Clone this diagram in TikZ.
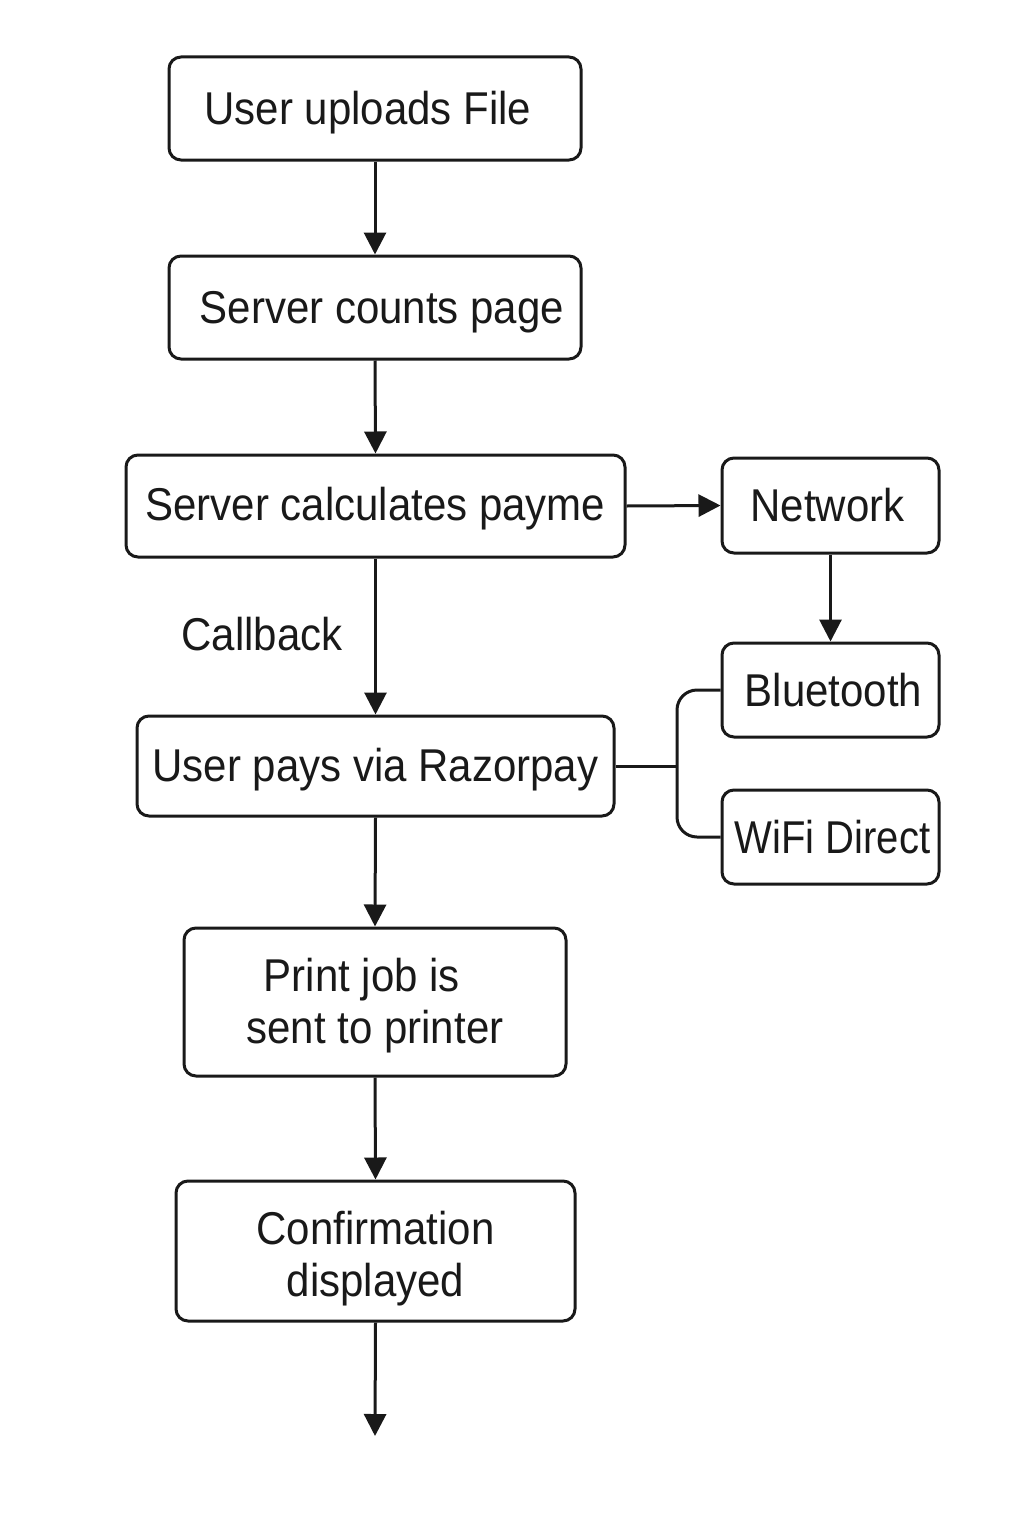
\documentclass[tikz,border=0pt]{standalone}
\usepackage{fontspec}
\setmainfont{Liberation Sans}[FakeStretch=0.913]
\usetikzlibrary{arrows.meta}
\begin{document}
\begin{tikzpicture}[x=0.5pt,y=-0.5pt,
  box/.style={draw=black!90, line width=1.5pt, rounded corners=6pt,
    font=\fontsize{23}{26}\selectfont, text=black!90, align=center, inner sep=0pt},
  conn/.style={draw=black!90, line width=1.5pt},
  arr/.style={conn, -{Triangle[length=11pt,width=11pt]}},
  lbl/.style={font=\fontsize{23}{26}\selectfont, text=black!90}]
\useasboundingbox (0,0) rectangle (1024,1536);
\node[box, minimum width=206pt, minimum height=51.5pt] (upload) at (375,108.5) {\raisebox{-2.2pt}[\height][\depth]{User uploads File}\hspace{7pt}};
\node[box, minimum width=206pt, minimum height=51.5pt] (counts) at (375,307.5) {\hspace{7pt}\raisebox{-2.4pt}[\height][\depth]{Server counts page}};
\node[box, minimum width=249.5pt, minimum height=51pt] (calc) at (375.5,506) {\raisebox{-1.5pt}[\height][\depth]{Server calculates payme}};
\node[box, minimum width=108.5pt, minimum height=47.5pt] (network) at (830.5,505.5) {Network\hspace{3pt}};
\node[box, minimum width=108.5pt, minimum height=47pt] (bt) at (830.5,690) {\hspace{3pt}Bluetooth};
\node[box, minimum width=108.5pt, minimum height=47pt] (wifi) at (830.5,837) {\hspace{2pt}{\fontsize{23}{26}\addfontfeature{FakeStretch=0.87}WiFi Direct}};
\node[box, minimum width=238.5pt, minimum height=50pt] (pay) at (375.5,766) {\raisebox{-2pt}[\height][\depth]{User pays via Razorpay}};
\node[box, minimum width=191pt, minimum height=74pt] (print) at (375,1002) {\rule{0pt}{20pt}\hspace*{-13pt}Print job is\\sent to printer};
\node[box, minimum width=199.5pt, minimum height=70pt] (confirm) at (375.5,1251) {\rule{0pt}{24pt}Confirmation\\displayed};
\node[lbl] (callback) at (262,634) {Callback};
\coordinate (split) at (677,766);
\coordinate (end) at (375,1436);
\draw[arr] (upload.south) -- (counts.north);
\draw[arr] (counts.south) -- (calc.north);
\draw[arr] (calc.south) -- (pay.north);
\draw[arr] (pay.south) -- (print.north);
\draw[arr] (print.south) -- (confirm.north);
\draw[arr] (confirm.south) -- (end);
\draw[arr] (calc.east) -- (network.west);
\draw[arr] (network.south) -- (bt.north);
\draw[conn] (pay.east) -- (split);
\draw[conn, rounded corners=10pt] (bt.west) -| (split) |- (wifi.west);
\end{tikzpicture}
\end{document}
